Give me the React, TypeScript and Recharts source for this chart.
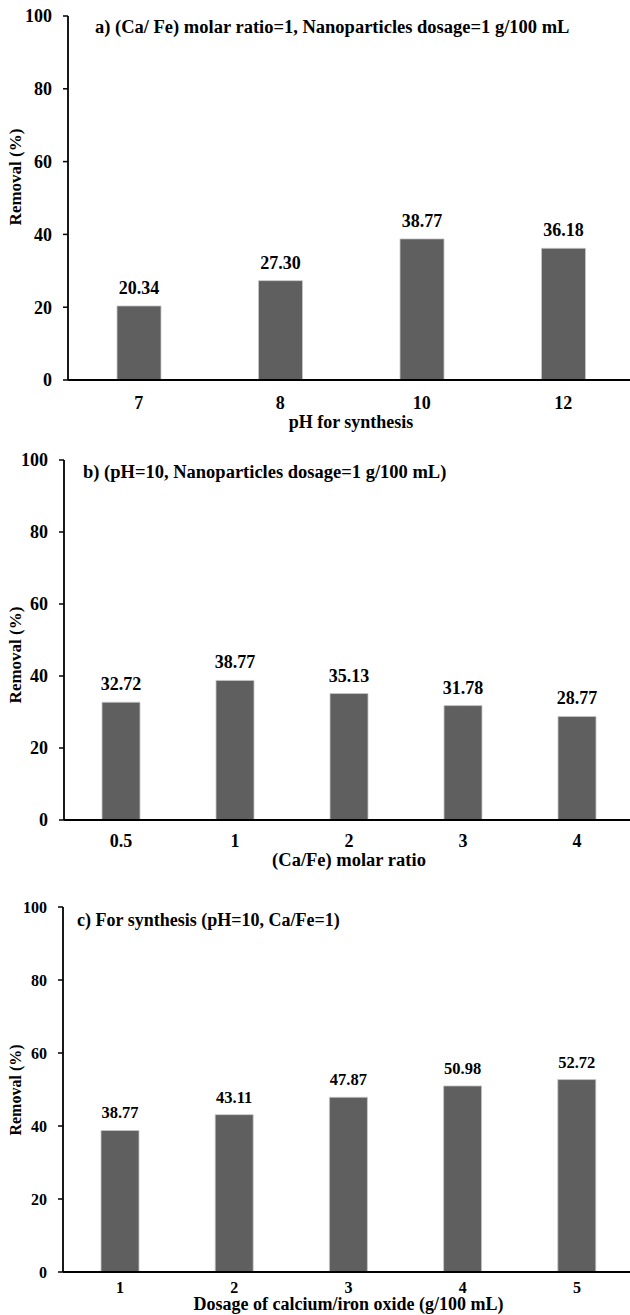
import React from 'react';
import { BarChart, Bar, XAxis, YAxis, LabelList } from 'recharts';

const FONT = '"Liberation Serif", "Times New Roman", serif';

const phCategories = ['7', '8', '10', '12'];
const phRemoval = [20.34, 27.3, 38.77, 36.18];

const ratioCategories = ['0.5', '1', '2', '3', '4'];
const ratioRemoval = [32.72, 38.77, 35.13, 31.78, 28.77];

const dosageCategories = ['1', '2', '3', '4', '5'];
const dosageRemoval = [38.77, 43.11, 47.87, 50.98, 52.72];

const yTicks = [0, 20, 40, 60, 80, 100];

const titles = [
  'a) (Ca/ Fe) molar ratio=1, Nanoparticles dosage=1 g/100 mL',
  'b) (pH=10, Nanoparticles dosage=1 g/100 mL)',
  'c) For synthesis (pH=10, Ca/Fe=1)',
];
const xTitles = ['pH for synthesis', '(Ca/Fe) molar ratio', 'Dosage of calcium/iron oxide (g/100 mL)'];

type PanelProps = {
  cats: string[];
  vals: number[];
  top: number;
  height: number;
  plotTop: number;
  axisHeight: number;
  yAxisWidth: number;
  barSize: number;
  yFs: number;
  xFs: number;
  dataFs: number;
  labelFs: number;
  xTitleFs: number;
  title: string;
  titleX: number;
  titleY: number;
  titleFs: number;
  xTitle: string;
  xTitleOffset: number;
  xTickMargin: number;
  yLabelY: number;
};

function Panel(p: PanelProps) {
  const data = p.cats.map((c, i) => ({ cat: c, v: p.vals[i] }));
  const yLabel = () => {
    const cy = p.yLabelY;
    return (
      <text
        x={15}
        y={cy}
        transform={`rotate(-90, 15, ${cy})`}
        textAnchor="middle"
        dominantBaseline="central"
        fontFamily={FONT}
        fontWeight="bold"
        fontSize={p.labelFs}
        fill="#000"
      >
        Removal (%)
      </text>
    );
  };
  return (
    <div style={{ position: 'absolute', left: 0, top: p.top, width: 640, height: p.height }}>
      <BarChart
        width={636}
        height={p.height}
        data={data}
        margin={{ top: p.plotTop, right: 2, left: 0, bottom: 0 }}
      >
        <XAxis
          dataKey="cat"
          height={p.axisHeight}
          tickLine={false}
          tickSize={0}
          tickMargin={p.xTickMargin}
          axisLine={{ stroke: '#000', strokeWidth: 1.8 }}
          tick={{ fill: '#000', fontFamily: FONT, fontWeight: 'bold', fontSize: p.xFs }}
          label={{
            value: p.xTitle,
            position: 'insideBottom',
            offset: p.xTitleOffset,
            fill: '#000',
            fontFamily: FONT,
            fontWeight: 'bold',
            fontSize: p.xTitleFs,
          }}
        />
        <YAxis
          domain={[0, 100]}
          ticks={yTicks}
          width={p.yAxisWidth}
          tickSize={5}
          tickMargin={11}
          interval={0}
          axisLine={{ stroke: '#000', strokeWidth: 1.8 }}
          tickLine={{ stroke: '#000', strokeWidth: 1.5 }}
          tick={{ fill: '#000', fontFamily: FONT, fontWeight: 'bold', fontSize: p.yFs }}
          label={{ content: yLabel }}
        />
        <Bar
          dataKey="v"
          fill="#5f5f5f"
          stroke="#c8c8c8"
          strokeWidth={0.8}
          barSize={p.barSize}
          isAnimationActive={false}
        >
          <LabelList
            dataKey="v"
            position="top"
            offset={12}
            formatter={(v: any) => Number(v).toFixed(2)}
            style={{ fill: '#000', fontFamily: FONT, fontWeight: 'bold', fontSize: p.dataFs }}
          />
        </Bar>
      </BarChart>
      <div
        style={{
          position: 'absolute',
          left: p.titleX,
          top: p.titleY,
          fontFamily: FONT,
          fontWeight: 'bold',
          fontSize: p.titleFs,
          lineHeight: 1,
          whiteSpace: 'nowrap',
          color: '#000',
          transform: 'translateY(-50%)',
        }}
      >
        {p.title}
      </div>
    </div>
  );
}

export default function App() {
  return (
    <div
      style={{
        position: 'absolute',
        left: 0,
        top: 0,
        width: 630,
        height: 1315,
        overflow: 'hidden',
        background: '#fff',
      }}
    >
      <Panel
        cats={phCategories}
        vals={phRemoval}
        top={0}
        height={435}
        plotTop={16}
        axisHeight={55}
        yAxisWidth={68}
        barSize={44}
        yFs={18}
        xFs={18}
        dataFs={18}
        labelFs={17}
        xTitleFs={18}
        title={titles[0]}
        titleX={95}
        titleY={27}
        titleFs={18.5}
        xTitle={xTitles[0]}
        xTitleOffset={7}
        xTickMargin={16}
        yLabelY={177}
      />
      <Panel
        cats={ratioCategories}
        vals={ratioRemoval}
        top={440}
        height={430}
        plotTop={20}
        axisHeight={50}
        yAxisWidth={64}
        barSize={38}
        yFs={18}
        xFs={18}
        dataFs={18}
        labelFs={17}
        xTitleFs={18.5}
        title={titles[1]}
        titleX={83}
        titleY={32}
        titleFs={18.5}
        xTitle={xTitles[1]}
        xTitleOffset={4}
        xTickMargin={14}
        yLabelY={215}
      />
      <Panel
        cats={dosageCategories}
        vals={dosageRemoval}
        top={890}
        height={425}
        plotTop={17}
        axisHeight={43}
        yAxisWidth={63}
        barSize={38}
        yFs={16}
        xFs={16}
        dataFs={16.5}
        labelFs={16}
        xTitleFs={18}
        title={titles[2]}
        titleX={77}
        titleY={30}
        titleFs={18}
        xTitle={xTitles[2]}
        xTitleOffset={5}
        xTickMargin={10}
        yLabelY={200}
      />
    </div>
  );
}
